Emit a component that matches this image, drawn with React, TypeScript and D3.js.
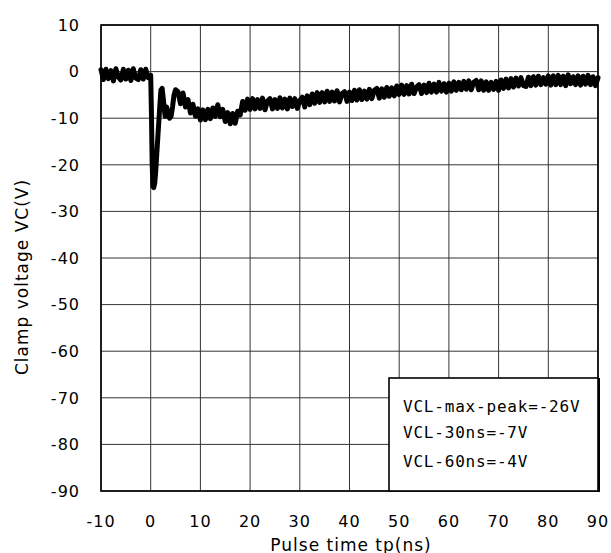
import React from "react";
import * as d3 from "d3";

const xTicks = [-10, 0, 10, 20, 30, 40, 50, 60, 70, 80, 90];
const yTicks = [10, 0, -10, -20, -30, -40, -50, -60, -70, -80, -90];

// pre-pulse baseline, t = -10 .. -0.5 ns every 0.5 ns
const preStart = -10;
const sampleStep = 0.5;
const preValues = [0.4, -1.7, 0.5, -1.5, 0.2, -2.0, 0.6, -1.2, -1.8, 0.5, -1.6, 0.3, -1.9, 0.6, -1.4, -1.7, 0.4, -1.6, 0.5, -1.3];

// the clamp pulse itself
const pulseTimes = [0, 0.15, 0.3, 0.45, 0.6, 0.8, 1.0, 1.2, 1.5, 1.8, 2.05, 2.3, 2.6, 2.9, 3.2, 3.5, 3.8, 4.1, 4.4, 4.7, 5.0];
const pulseValues = [-0.8, -9, -20, -24.6, -24.9, -24, -21.5, -18, -13, -8, -4, -3.6, -6.5, -9.6, -7.6, -9.3, -10.0, -9.6, -7.5, -5.0, -3.9];

// tail, t = 5.5 .. 90 ns every 0.5 ns
const tailStart = 5.5;
const tailValues = [
  -4.3, -6.9, -4.6, -7.6, -6.0, -8.9, -7.0, -9.6, -8.0, -10.4,
  -8.2, -10.3, -8.1, -10.1, -7.8, -9.6, -7.1, -9.7, -8.1, -10.7,
  -8.8, -11.2, -9.0, -11.1, -8.5, -9.3, -6.4, -8.3, -5.9, -8.1,
  -5.8, -8.0, -6.0, -7.9, -5.7, -8.2, -6.3, -5.8, -8.0, -6.0,
  -7.9, -5.6, -7.8, -5.9, -8.0, -5.7, -7.5, -5.8, -7.9, -6.2,
  -5.5, -7.6, -5.2, -7.1, -4.8, -6.8, -4.5, -6.6, -4.5, -6.5,
  -4.2, -6.4, -4.4, -6.3, -4.1, -6.5, -4.7, -4.3, -6.4, -4.4,
  -6.2, -4.0, -6.1, -3.9, -6.0, -4.2, -5.9, -3.8, -5.8, -4.0,
  -3.6, -5.7, -3.7, -5.5, -3.4, -5.3, -3.5, -5.2, -3.1, -4.9,
  -2.9, -4.9, -3.0, -4.8, -2.7, -4.7, -3.3, -2.8, -4.7, -2.9,
  -4.5, -2.5, -4.4, -2.7, -4.4, -2.3, -4.2, -2.6, -4.4, -2.5,
  -4.2, -2.2, -4.0, -2.3, -3.9, -2.1, -3.8, -2.0, -3.9, -2.3,
  -1.9, -3.9, -2.0, -4.0, -2.2, -4.0, -2.3, -3.8, -2.1, -4.0,
  -1.8, -3.6, -1.6, -3.5, -1.5, -3.3, -1.4, -3.1, -1.3, -3.0,
  -3.2, -1.2, -3.0, -1.1, -2.9, -1.0, -2.8, -1.3, -2.7, -0.9,
  -2.9, -0.9, -2.8, -0.8, -2.8, -1.0, -3.0, -0.7, -2.6, -1.1,
  -2.8, -0.9, -2.9, -1.0, -2.7, -0.8, -2.8, -1.1, -3.0, -1.3,
];

const legendLines = ["VCL-max-peak=-26V", "VCL-30ns=-7V", "VCL-60ns=-4V"];
const xTitle = "Pulse time tp(ns)";
const yTitle = "Clamp voltage VC(V)";

const W = 611;
const H = 553;
const plot = { left: 101, right: 598, top: 25, bottom: 491 };

export default function App() {
  const x = d3.scaleLinear().domain([-10, 90]).range([plot.left, plot.right]);
  const y = d3.scaleLinear().domain([10, -90]).range([plot.top, plot.bottom]);

  const pts: [number, number][] = [];
  preValues.forEach((v, i) => pts.push([preStart + i * sampleStep, v]));
  pulseTimes.forEach((t, i) => pts.push([t, pulseValues[i]]));
  tailValues.forEach((v, i) => pts.push([tailStart + i * sampleStep, v]));

  const line = d3
    .line<[number, number]>()
    .x((d) => x(d[0]))
    .y((d) => y(d[1]));

  const tickFont = "'DejaVu Sans', Verdana, sans-serif";
  const legFont = "'DejaVu Sans Mono', monospace";
  const lg = { x0: 389, y0: 378, x1: 598, y1: 491 };
  const legBaselines = [412, 438, 467];

  return (
    <svg
      width={W}
      height={H}
      style={{ position: "absolute", left: 0, top: 0, background: "#fff" }}
    >
      <rect x={0} y={0} width={W} height={H} fill="#fff" />
      {xTicks.map((t) => (
        <line key={"gx" + t} x1={x(t)} x2={x(t)} y1={plot.top} y2={plot.bottom} stroke="#333" strokeWidth={1} />
      ))}
      {yTicks.map((t) => (
        <line key={"gy" + t} x1={plot.left} x2={plot.right} y1={y(t)} y2={y(t)} stroke="#333" strokeWidth={1} />
      ))}
      <path d={line(pts) || ""} fill="none" stroke="#000" strokeWidth={5} strokeLinejoin="round" strokeLinecap="round" />
      <rect
        x={plot.left}
        y={plot.top}
        width={plot.right - plot.left}
        height={plot.bottom - plot.top}
        fill="none"
        stroke="#000"
        strokeWidth={1.6}
      />
      {yTicks.map((t) => (
        <text key={"ty" + t} x={80} y={y(t)} dy="0.36em" textAnchor="end" fontFamily={tickFont} fontSize={16} letterSpacing={1} fill="#000">
          {t}
        </text>
      ))}
      {xTicks.map((t) => (
        <text key={"tx" + t} x={x(t)} y={527} textAnchor="middle" fontFamily={tickFont} fontSize={16} letterSpacing={1} fill="#000">
          {t}
        </text>
      ))}
      <text x={351} y={551} textAnchor="middle" fontFamily={tickFont} fontSize={17} letterSpacing={1} fill="#000">
        {xTitle}
      </text>
      <text
        transform={`translate(28,277) rotate(-90)`}
        textAnchor="middle"
        fontFamily={tickFont}
        fontSize={17}
        letterSpacing={1}
        fill="#000"
      >
        {yTitle}
      </text>
      <rect x={lg.x0} y={lg.y0} width={lg.x1 - lg.x0} height={lg.y1 - lg.y0} fill="#fff" stroke="#000" strokeWidth={1.6} />
      <line x1={plot.right + 1} x2={plot.right + 1} y1={lg.y0} y2={lg.y1 + 1} stroke="#000" strokeWidth={2} />
      {legendLines.map((s, i) => (
        <text key={s} x={403} y={legBaselines[i]} fontFamily={legFont} fontSize={16} letterSpacing={0.8} fill="#000">
          {s}
        </text>
      ))}
    </svg>
  );
}
